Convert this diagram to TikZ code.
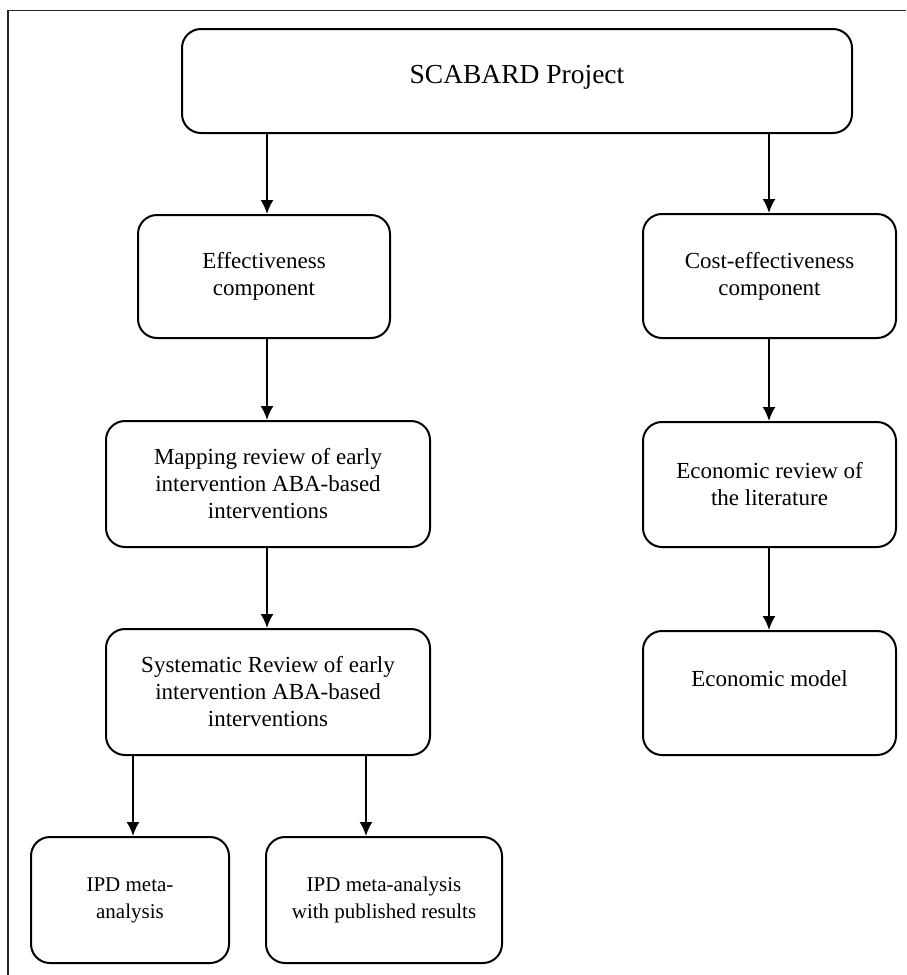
\documentclass[tikz,border=0pt]{standalone}
\usepackage{fontspec}
\setmainfont{Liberation Serif}
\usetikzlibrary{arrows.meta}

\begin{document}
\begin{tikzpicture}[x=1pt, y=-1pt,
  box/.style={draw, line width=2pt, rounded corners=19pt, align=center, inner sep=0pt, font=\fontsize{23}{27}\selectfont},
  arr/.style={-{Latex[length=14pt, width=13pt]}, line width=1.9pt}]
\useasboundingbox (0,0) rectangle (906,975);
\draw[line width=1.1pt, black!85] (8,975) -- (8,10.5) -- (906,10.5);

\node[box, minimum width=670pt, minimum height=104pt, font=\fontsize{27.5}{32}\selectfont, text depth=14pt] (proj) at (517,81) {SCABARD Project};
\node[box, minimum width=252pt, minimum height=123pt] (eff) at (264,276.5) {Effectiveness\\component};
\node[box, minimum width=253pt, minimum height=124pt] (cost) at (769.5,276) {Cost-effectiveness\\component};
\node[box, minimum width=324pt, minimum height=126pt] (map) at (268,484) {Mapping review of early\\intervention ABA-based\\interventions};
\node[box, minimum width=324pt, minimum height=126pt] (sys) at (268,692) {Systematic Review of early\\intervention ABA-based\\interventions};
\node[box, minimum width=253pt, minimum height=125pt] (econrev) at (769.5,484.5) {Economic review of\\the literature};
\node[box, minimum width=253pt, minimum height=124pt, text depth=28pt] (econmod) at (769.5,693) {Economic model};
\node[box, minimum width=198pt, minimum height=126pt, font=\fontsize{21}{27}\selectfont] (ipda) at (130,900) {IPD meta-\\analysis};
\node[box, minimum width=236pt, minimum height=126pt, font=\fontsize{21}{27}\selectfont] (ipdb) at (384,900) {IPD meta-analysis\\with published results};

% arrow columns
\coordinate (lx) at (267,0);
\coordinate (rx) at (769,0);
\coordinate (ax) at (133,0);
\coordinate (bx) at (366,0);

\draw[arr] (proj.south -| lx) -- (eff.north -| lx);
\draw[arr] (proj.south -| rx) -- (cost.north -| rx);
\draw[arr] (eff.south -| lx) -- (map.north -| lx);
\draw[arr] (map.south -| lx) -- (sys.north -| lx);
\draw[arr] (cost.south -| rx) -- (econrev.north -| rx);
\draw[arr] (econrev.south -| rx) -- (econmod.north -| rx);
\draw[arr] (sys.south -| ax) -- (ipda.north -| ax);
\draw[arr] (sys.south -| bx) -- (ipdb.north -| bx);
\end{tikzpicture}
\end{document}
